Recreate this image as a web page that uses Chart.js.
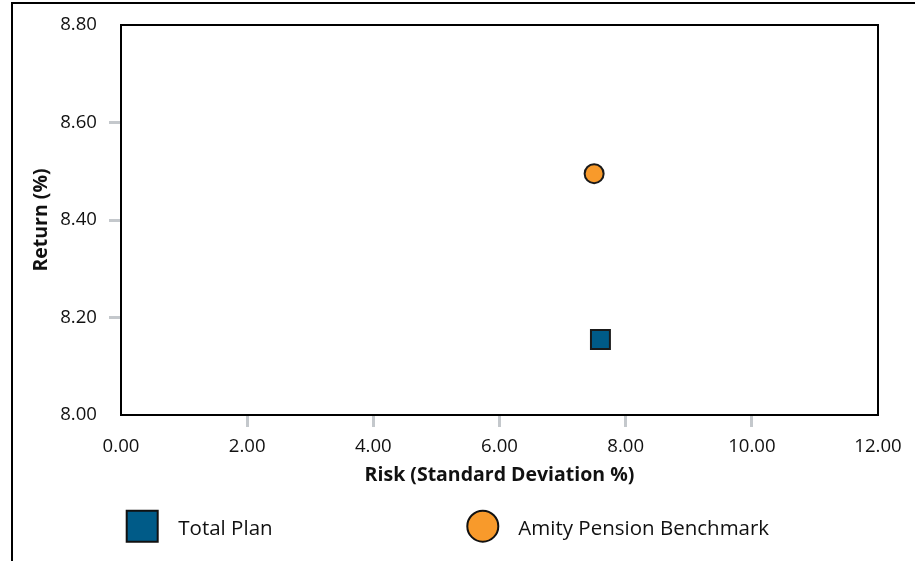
<!DOCTYPE html>
<html>
<head>
<meta charset="utf-8">
<script src="https://cdn.jsdelivr.net/npm/chart.js@4.4.1/dist/chart.umd.min.js"></script>
<style>
  html, body { margin: 0; padding: 0; background: #ffffff; }
  #wrap { position: relative; width: 915px; height: 561px; }
  canvas { display: block; }
</style>
</head>
<body>
<div id="wrap"><canvas id="c" width="915" height="561"></canvas></div>
<script>
// ---- data ----
const seriesNames = ['Total Plan', 'Amity Pension Benchmark'];
const riskValues = [7.60, 7.50];          // x: Risk (Standard Deviation %)
const returnValues = [8.155, 8.495];      // y: Return (%)
const seriesColors = ['#005b88', '#f89a2b'];
const seriesShapes = ['rect', 'circle'];
const xTickValues = [0, 2, 4, 6, 8, 10, 12];
const yTickValues = [8.00, 8.20, 8.40, 8.60, 8.80];
const xAxisTitle = 'Risk (Standard Deviation %)';
const yAxisTitle = 'Return (%)';

const FONT = '"Open Sans", "Noto Sans", sans-serif';
const tickGrey = '#c4c8cc';

const datasets = seriesNames.map((name, i) => ({
  label: name,
  data: [{ x: riskValues[i], y: returnValues[i] }],
  pointStyle: seriesShapes[i],
  backgroundColor: seriesColors[i],
  borderColor: '#1a1a1a',
  borderWidth: 2,
  pointRadius: seriesShapes[i] === 'rect' ? 13.4 : 9.5,
  pointHoverRadius: seriesShapes[i] === 'rect' ? 13.4 : 9.5
}));

const framePlugin = {
  id: 'frame',
  beforeDraw(chart) {
    const ctx = chart.ctx;
    ctx.save();
    ctx.fillStyle = '#ffffff';
    ctx.fillRect(0, 0, chart.width, chart.height);
    ctx.strokeStyle = '#000000';
    ctx.lineWidth = 2;
    ctx.beginPath();
    ctx.moveTo(12, chart.height + 5);
    ctx.lineTo(12, 3);
    ctx.lineTo(chart.width + 5, 3);
    ctx.stroke();
    ctx.restore();
  },
  afterDraw(chart) {
    const ctx = chart.ctx;
    const a = chart.chartArea;
    ctx.save();
    ctx.strokeStyle = '#000000';
    ctx.lineWidth = 2;
    ctx.strokeRect(a.left, a.top, a.right - a.left, a.bottom - a.top);
    ctx.restore();
  }
};

const legendPlugin = {
  id: 'customLegend',
  afterDraw(chart) {
    const ctx = chart.ctx;
    const items = [
      { cx: 142.2, tx: 178.3 },
      { cx: 482.8, tx: 518.3 }
    ];
    const cy = 526.2, size = 31;
    ctx.save();
    chart.data.datasets.forEach((ds, i) => {
      const it = items[i];
      ctx.fillStyle = ds.backgroundColor;
      ctx.strokeStyle = '#111111';
      ctx.lineWidth = 2;
      ctx.beginPath();
      if (ds.pointStyle === 'rect') {
        ctx.rect(it.cx - size / 2, cy - size / 2, size, size);
      } else {
        ctx.arc(it.cx, cy, size / 2, 0, Math.PI * 2);
      }
      ctx.fill();
      ctx.stroke();
      ctx.fillStyle = '#111111';
      ctx.font = '20.5px ' + FONT;
      ctx.textAlign = 'left';
      ctx.textBaseline = 'alphabetic';
      ctx.fillText(ds.label, it.tx, 535);
    });
    ctx.restore();
  }
};

const gridColor = (ctx) => {
  const n = ctx.scale.ticks.length;
  return (ctx.index === 0 || ctx.index === n - 1) ? 'rgba(0,0,0,0)' : tickGrey;
};

new Chart(document.getElementById('c'), {
  type: 'scatter',
  data: { datasets },
  plugins: [framePlugin, legendPlugin],
  options: {
    responsive: false,
    animation: false,
    events: [],
    layout: { padding: { left: 0, right: 37, top: 25, bottom: 0 } },
    plugins: {
      legend: { display: false },
      tooltip: { enabled: false }
    },
    scales: {
      x: {
        type: 'linear',
        min: 0, max: 12,
        afterBuildTicks(scale) { scale.ticks = xTickValues.map(v => ({ value: v })); },
        afterFit(scale) { scale.height = 146; },
        grid: { drawOnChartArea: false, drawTicks: true, tickLength: 12, lineWidth: 3, color: gridColor },
        border: { display: false },
        ticks: {
          color: '#111111',
          font: { family: FONT, size: 18.6 },
          padding: 9,
          maxRotation: 0,
          callback: v => Number(v).toFixed(2)
        },
        title: {
          display: true,
          text: xAxisTitle,
          color: '#111111',
          font: { family: FONT, size: 19.5, weight: 'bold' },
          padding: { top: 0, bottom: 74 }
        }
      },
      y: {
        type: 'linear',
        min: 8.0, max: 8.8,
        afterBuildTicks(scale) { scale.ticks = yTickValues.map(v => ({ value: v })); },
        afterFit(scale) { scale.width = 121; },
        grid: { drawOnChartArea: false, drawTicks: true, tickLength: 12, lineWidth: 3, color: gridColor },
        border: { display: false },
        ticks: {
          color: '#111111',
          font: { family: FONT, size: 18.6 },
          padding: 12,
          callback: v => Number(v).toFixed(2)
        },
        title: {
          display: true,
          text: yAxisTitle,
          color: '#111111',
          font: { family: FONT, size: 19.5, weight: 'bold' },
          padding: { top: 30, bottom: 0 }
        }
      }
    }
  }
});
</script>
</body>
</html>
